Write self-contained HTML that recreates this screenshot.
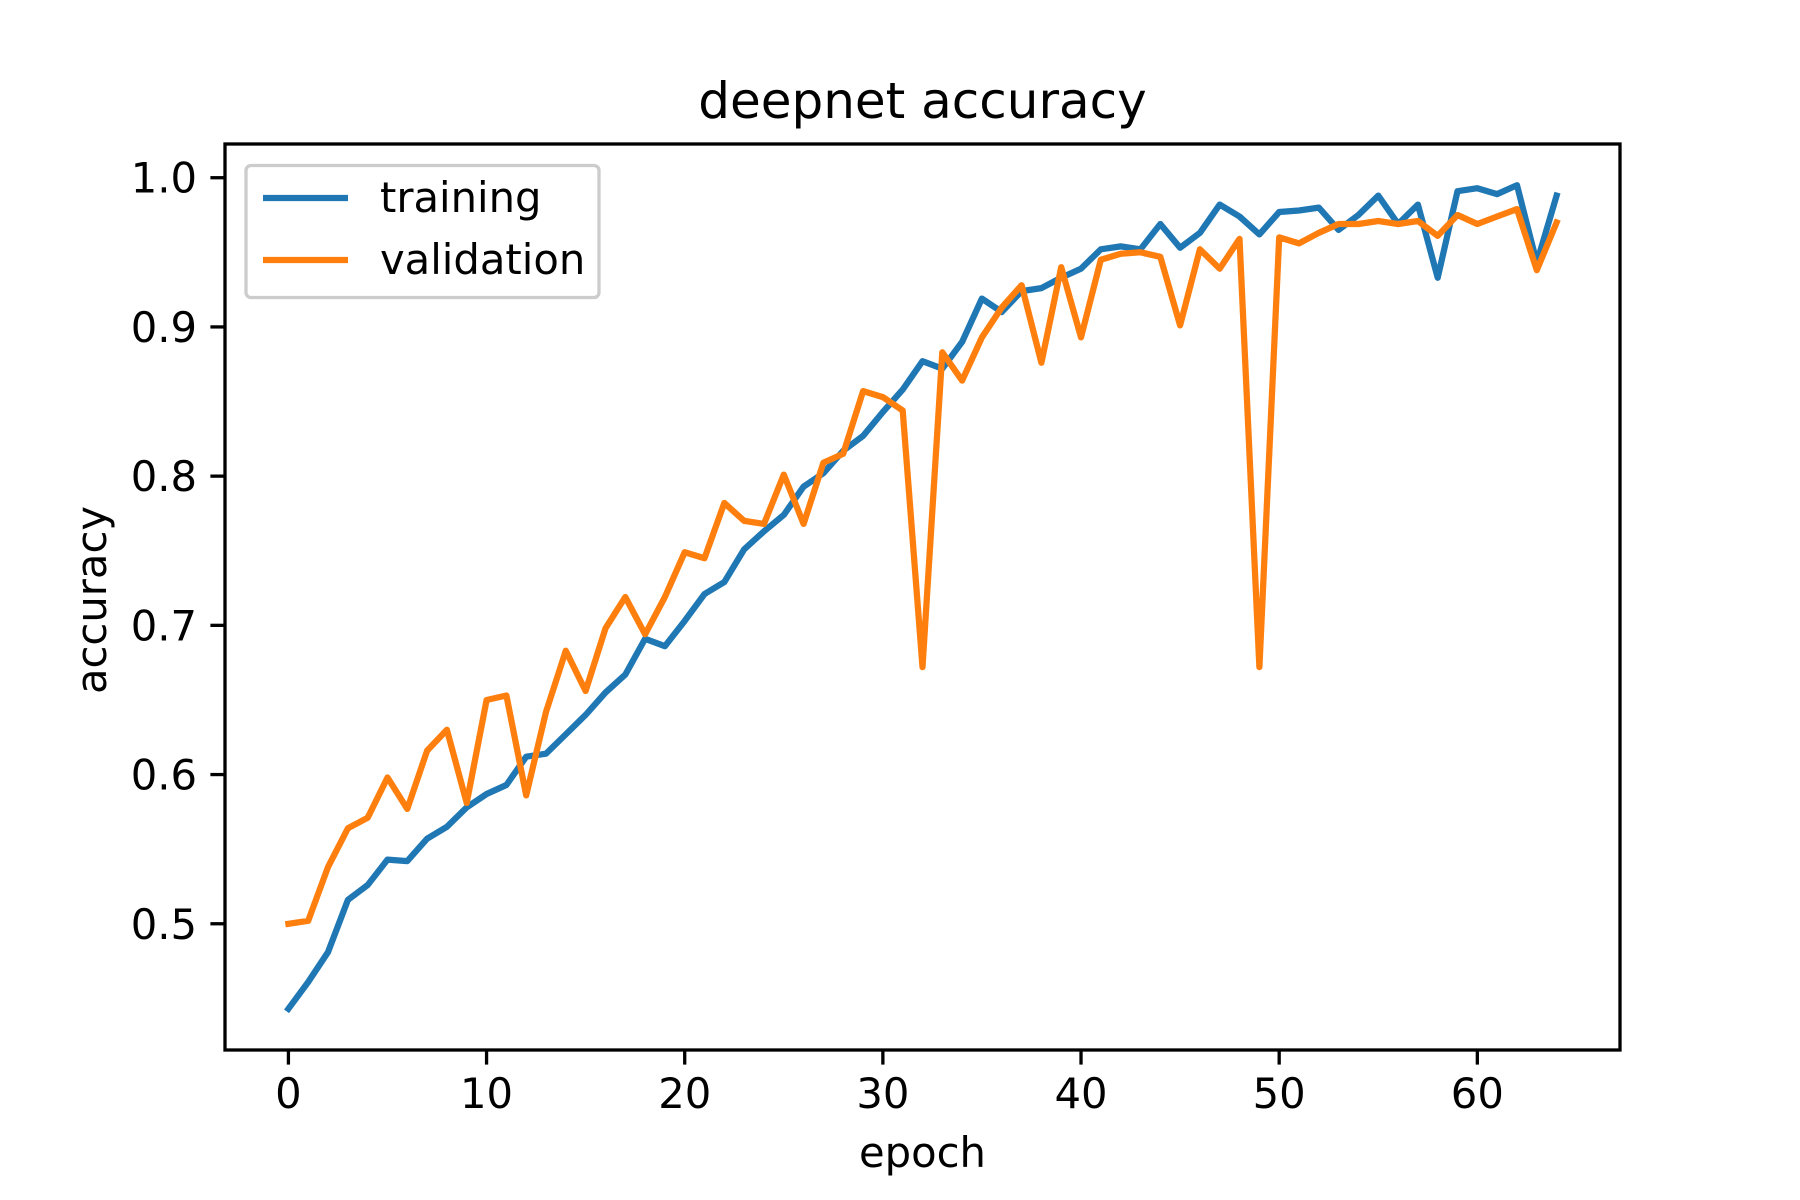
<!DOCTYPE html>
<html><head><meta charset="utf-8"><style>
html,body{margin:0;padding:0;background:#fff;}
svg{display:block;font-family:"DejaVu Sans","Liberation Sans",sans-serif;}
</style></head><body>
<svg id="chart" width="1800" height="1200" viewBox="0 0 1800 1200">
<rect x="0" y="0" width="1800" height="1200" fill="#fff"/>
<text x="922.5" y="118" font-size="50" text-anchor="middle">deepnet accuracy</text>
<text x="922.5" y="1167" font-size="41.7" text-anchor="middle">epoch</text>
<text x="0" y="0" font-size="41.7" text-anchor="middle" transform="translate(106,600) rotate(-90)">accuracy</text>
<g id="ticks"></g>
<g id="lines"></g>
<rect x="225" y="144" width="1395" height="906" fill="none" stroke="#000" stroke-width="3.3"/>
<g>
<rect x="246" y="165.5" width="353" height="132" rx="5" fill="#fff" fill-opacity="0.8" stroke="#ccc" stroke-width="3.3"/>
<line x1="263" y1="198" x2="348" y2="198" stroke="#1f77b4" stroke-width="6.25"/>
<text x="380" y="212" font-size="41.7">training</text>
<line x1="263" y1="260" x2="348" y2="260" stroke="#ff7f0e" stroke-width="6.25"/>
<text x="380" y="274" font-size="41.7">validation</text>
</g>
</svg>
<script>
const training = [0.443,0.461,0.481,0.516,0.526,0.543,0.542,0.557,0.565,0.578,0.587,0.593,0.612,0.614,0.627,0.640,0.655,0.667,0.691,0.686,0.703,0.721,0.729,0.751,0.763,0.774,0.793,0.802,0.817,0.827,0.843,0.858,0.877,0.872,0.890,0.919,0.910,0.924,0.926,0.933,0.939,0.952,0.954,0.952,0.969,0.953,0.963,0.982,0.974,0.962,0.977,0.978,0.980,0.965,0.975,0.988,0.969,0.982,0.933,0.991,0.993,0.989,0.995,0.943,0.988];
const validation = [0.500,0.502,0.538,0.564,0.571,0.598,0.577,0.616,0.630,0.581,0.650,0.653,0.586,0.642,0.683,0.656,0.698,0.719,0.694,0.719,0.749,0.745,0.782,0.770,0.768,0.801,0.768,0.809,0.815,0.857,0.853,0.844,0.672,0.883,0.864,0.893,0.913,0.928,0.876,0.940,0.893,0.945,0.949,0.950,0.947,0.901,0.952,0.939,0.959,0.672,0.960,0.956,0.963,0.969,0.969,0.971,0.969,0.971,0.961,0.975,0.969,0.974,0.979,0.938,0.970];
const xTicks = [0,10,20,30,40,50,60];
const yTicks = [0.5,0.6,0.7,0.8,0.9,1.0];

const NS = "http://www.w3.org/2000/svg";
const L = 225, R = 1620, T = 144, B = 1050;
const n = training.length;
const xmin = -(n-1)*0.05, xmax = (n-1)*1.05;
const all = training.concat(validation);
const dmin = Math.min(...all), dmax = Math.max(...all);
const ymin = dmin - (dmax-dmin)*0.05, ymax = dmax + (dmax-dmin)*0.05;
function sx(v){ return L + (v - xmin)/(xmax - xmin)*(R - L); }
function sy(v){ return B - (v - ymin)/(ymax - ymin)*(B - T); }

const tg = document.getElementById('ticks');
xTicks.forEach(t => {
  const ln = document.createElementNS(NS,'line');
  ln.setAttribute('x1', sx(t)); ln.setAttribute('x2', sx(t));
  ln.setAttribute('y1', B); ln.setAttribute('y2', B + 14.6);
  ln.setAttribute('stroke','#000'); ln.setAttribute('stroke-width','3.3');
  
  
  tg.appendChild(ln);
  const tx = document.createElementNS(NS,'text');
  tx.setAttribute('x', sx(t)); tx.setAttribute('y', B + 58);
  tx.setAttribute('font-size','41.7'); tx.setAttribute('text-anchor','middle');
  tx.textContent = String(t);
  
  
  tg.appendChild(tx);
});
yTicks.forEach(t => {
  const ln = document.createElementNS(NS,'line');
  ln.setAttribute('x1', L - 14.6); ln.setAttribute('x2', L);
  ln.setAttribute('y1', sy(t)); ln.setAttribute('y2', sy(t));
  ln.setAttribute('stroke','#000'); ln.setAttribute('stroke-width','3.3');
  
  
  tg.appendChild(ln);
  const tx = document.createElementNS(NS,'text');
  tx.setAttribute('x', L - 28); tx.setAttribute('y', sy(t) + 15);
  tx.setAttribute('font-size','41.7'); tx.setAttribute('text-anchor','end');
  tx.textContent = t.toFixed(1);
  
  
  tg.appendChild(tx);
});

const lg = document.getElementById('lines');
function drawLine(arr, color, name){
  const p = document.createElementNS(NS,'polyline');
  p.setAttribute('points', arr.map((v,i)=> sx(i).toFixed(1)+','+sy(v).toFixed(1)).join(' '));
  p.setAttribute('fill','none'); p.setAttribute('stroke', color);
  p.setAttribute('stroke-width','6.25'); p.setAttribute('stroke-linejoin','round');
  p.setAttribute('stroke-linecap','square');
  
  
  lg.appendChild(p);
}
drawLine(training, '#1f77b4', 'training-line');
drawLine(validation, '#ff7f0e', 'validation-line');
</script>
</body></html>
